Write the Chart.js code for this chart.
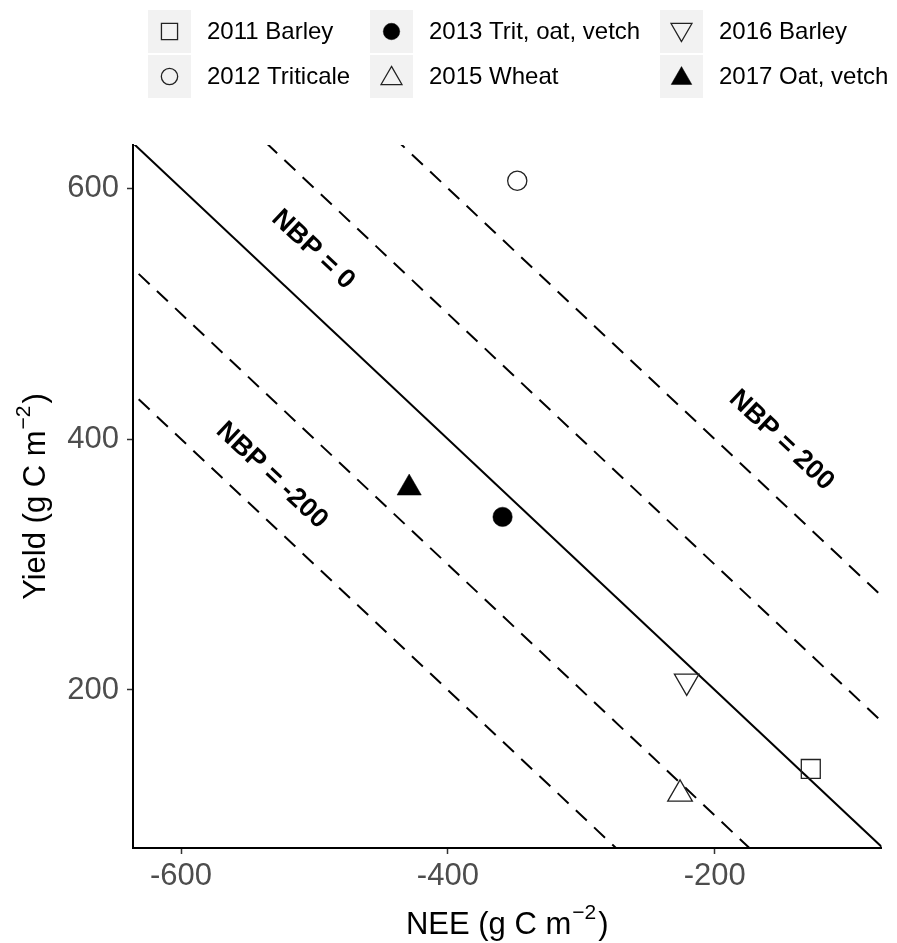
<!DOCTYPE html>
<html>
<head>
<meta charset="utf-8">
<script src="https://cdn.jsdelivr.net/npm/chart.js@4.4.1/dist/chart.umd.min.js"></script>
<style>
  html, body { margin: 0; padding: 0; background: #fff; }
  canvas { display: block; }
</style>
</head>
<body>
<canvas id="nbpChart" width="897" height="943"></canvas>
<script>
// Crop seasons, NEE and harvested yield (g C m-2)
const seasons = ["2011 Barley", "2012 Triticale", "2013 Trit, oat, vetch", "2015 Wheat", "2016 Barley", "2017 Oat, vetch"];
const neeValues = [-128, -348, -359, -226, -221, -429];
const yieldValues = [137, 606, 338, 117, 207, 361];

// NBP isolines (NBP = NEE + Yield) and where they are labelled
const nbpLevels = [-200, -100, 0, 100, 200];
const nbpSpan = [-700, 0];
const nbpLabels = ["NBP = -200", "NBP = 0", "NBP = 200"];
const nbpLabelNEE = [-532, -501, -150];
const nbpLabelYield = [371, 551, 399];

const xTicks = [-600, -400, -200];
const yTicks = [200, 400, 600];

// marker styles, in season order
const MARKERS = [
  { style: "rect", filled: false, rotation: 0, radius: 13.4 },
  { style: "circle", filled: false, rotation: 0, radius: 9.6 },
  { style: "circle", filled: true, rotation: 0, radius: 9.7 },
  { style: "triangle", filled: false, rotation: 0, radius: 14.2 },
  { style: "triangle", filled: false, rotation: 180, radius: 14.2 },
  { style: "triangle", filled: true, rotation: 0, radius: 14 }
];

const FONT = "'Liberation Sans', Arial, sans-serif";

const pointSets = seasons.map((name, i) => {
  const m = MARKERS[i];
  return {
    label: name,
    data: [{ x: neeValues[i], y: yieldValues[i] }],
    showLine: false,
    pointStyle: m.style,
    pointRotation: m.rotation,
    pointRadius: m.radius,
    pointHoverRadius: m.radius,
    pointBackgroundColor: m.filled ? "#000" : "rgba(0,0,0,0)",
    pointBorderColor: m.filled ? "#000" : "#222",
    pointBorderWidth: m.filled ? 0.5 : 1.3
  };
});

const lineSets = nbpLevels.map((nbp) => ({
  label: "NBP " + nbp,
  data: nbpSpan.map((nee) => ({ x: nee, y: nbp - nee })),
  showLine: true,
  pointRadius: 0,
  borderColor: "#000",
  borderWidth: 2,
  borderDash: nbp === 0 ? [] : [15, 10],
  fill: false
}));

// draws the NBP labels, axis titles with superscripts and the legend
const decorations = {
  id: "decorations",
  afterDatasetsDraw(chart) {
    const { ctx, scales: { x, y } } = chart;
    ctx.save();
    const angle = Math.atan2(y.getPixelForValue(0) - y.getPixelForValue(100),
                             x.getPixelForValue(100) - x.getPixelForValue(0));
    ctx.fillStyle = "#000";
    ctx.font = "bold 27px " + FONT;
    ctx.textAlign = "center";
    ctx.textBaseline = "middle";
    nbpLabels.forEach((txt, i) => {
      ctx.save();
      ctx.translate(x.getPixelForValue(nbpLabelNEE[i]), y.getPixelForValue(nbpLabelYield[i]));
      ctx.rotate(angle);
      ctx.fillText(txt, 0, 0);
      ctx.restore();
    });
    ctx.restore();
  },
  afterDraw(chart) {
    const { ctx, chartArea: area } = chart;
    ctx.save();
    ctx.fillStyle = "#000";

    // axis title: main text, superscript, closing bracket
    const title = (main, sup, cx, cy) => {
      ctx.font = "31px " + FONT;
      const w1 = ctx.measureText(main).width;
      const w3 = ctx.measureText(")").width;
      ctx.font = "21px " + FONT;
      const w2 = ctx.measureText(sup).width;
      let left = cx - (w1 + w2 + w3 + 3) / 2;
      ctx.textAlign = "left";
      ctx.textBaseline = "alphabetic";
      ctx.font = "31px " + FONT;
      ctx.fillText(main, left, cy);
      ctx.font = "21px " + FONT;
      ctx.fillText(sup, left + w1 + 1, cy - 15);
      ctx.font = "31px " + FONT;
      ctx.fillText(")", left + w1 + w2 + 3, cy);
    };
    title("NEE (g C m", "\u22122", (area.left + area.right) / 2, 934);
    ctx.save();
    ctx.translate(45, (area.top + area.bottom) / 2);
    ctx.rotate(-Math.PI / 2);
    title("Yield (g C m", "\u22122", 0, 0);
    ctx.restore();

    // legend, filled column by column as ggplot does
    const boxLeft = [148, 370, 660];
    const boxTop = [10, 55];
    const box = 43;
    seasons.forEach((name, i) => {
      const col = Math.floor(i / 2), row = i % 2;
      const bx = boxLeft[col], by = boxTop[row];
      ctx.fillStyle = "#f2f2f2";
      ctx.fillRect(bx, by, box, box);
      const m = MARKERS[i];
      ctx.fillStyle = m.filled ? "#000" : "rgba(0,0,0,0)";
      ctx.strokeStyle = m.filled ? "#000" : "#222";
      ctx.lineWidth = m.filled ? 0.5 : 1.3;
      Chart.helpers.drawPoint(ctx, {
        pointStyle: m.style,
        rotation: m.rotation,
        radius: m.radius * 0.85,
        borderWidth: ctx.lineWidth
      }, bx + box / 2, by + box / 2 + (m.style === "triangle" ? (m.rotation ? -2 : 2) : 0));
      ctx.fillStyle = "#000";
      ctx.font = "24px " + FONT;
      ctx.textAlign = "left";
      ctx.textBaseline = "middle";
      ctx.fillText(name, bx + box + 16, by + box / 2 + 1);
    });
    ctx.restore();
  }
};

const axisCommon = {
  type: "linear",
  grid: {
    display: true,
    drawOnChartArea: false,
    drawTicks: true,
    tickLength: 6,
    tickColor: "#333",
    tickWidth: 1.5
  },
  border: { display: true, color: "#000", width: 2 }
};

new Chart(document.getElementById("nbpChart"), {
  type: "scatter",
  data: { datasets: pointSets.concat(lineSets) },
  options: {
    responsive: false,
    animation: false,
    events: [],
    layout: { padding: { top: 145, right: 7, left: 0, bottom: 0 } },
    plugins: {
      legend: { display: false },
      tooltip: { enabled: false },
      title: { display: false }
    },
    scales: {
      x: {
        ...axisCommon,
        position: "bottom",
        min: -636,
        max: -75,
        afterBuildTicks: (s) => { s.ticks = xTicks.map((v) => ({ value: v })); },
        afterFit: (s) => { s.height = 95; },
        ticks: { color: "#4d4d4d", font: { size: 31, family: FONT }, padding: 4, maxRotation: 0 }
      },
      y: {
        ...axisCommon,
        position: "left",
        min: 74,
        max: 634.5,
        afterBuildTicks: (s) => { s.ticks = yTicks.map((v) => ({ value: v })); },
        afterFit: (s) => { s.width = 133; },
        ticks: { color: "#4d4d4d", font: { size: 31, family: FONT }, padding: 8 }
      }
    }
  },
  plugins: [decorations]
});
</script>
</body>
</html>
